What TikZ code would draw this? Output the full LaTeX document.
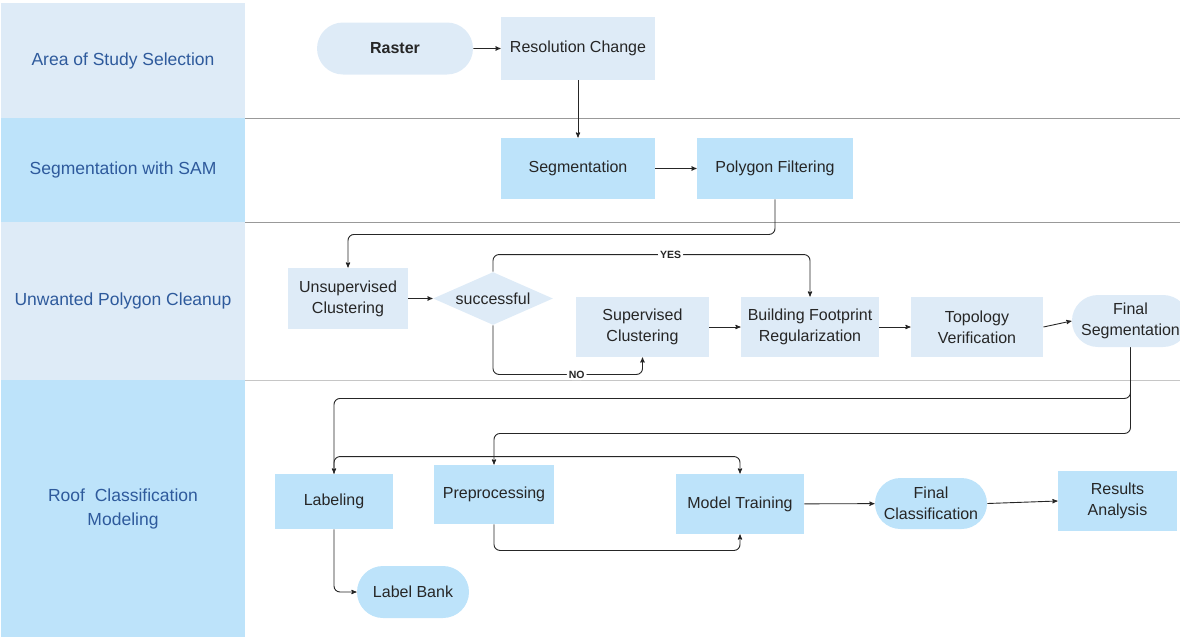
\documentclass[tikz,border=0pt]{standalone}
\usepackage{fontspec}
\setmainfont{Liberation Sans}
\usetikzlibrary{arrows,shapes}

\definecolor{lanelight}{HTML}{DEEBF7}
\definecolor{lanebright}{HTML}{BDE3FA}
\definecolor{laneblue}{HTML}{2E5A9C}

\begin{document}
\begin{tikzpicture}[->,>=stealth',x=1pt,y=-1pt,line width=0.9pt,color=black!85,
    box/.style={rectangle,fill=lanelight,align=center,text=black!85,
                font=\fontsize{16}{21}\selectfont,inner sep=2pt},
    pill/.style={box,rounded rectangle},
    lane/.style={rectangle,fill=lanelight,text=laneblue,align=center,minimum width=244,
                 inner sep=0pt,font=\fontsize{17.5}{24}\selectfont},
    tag/.style={fill=white,inner sep=2pt,text=black!85,font=\fontsize{10.5}{12}\selectfont\bfseries}]

  \useasboundingbox (0,0) rectangle (1180,637);

  % swimlanes
  \node[lane,minimum height=115] (l1) at (123,60.5) {Area of Study Selection};
  \node[lane,minimum height=104,fill=lanebright] (l2) at (123,170) {Segmentation with SAM};
  \node[lane,minimum height=158] (l3) at (123,301) {Unwanted Polygon Cleanup};
  \node[lane,minimum height=257,fill=lanebright] (l4) at (123,508.5) {Roof\ \ Classification\\Modeling};
  \draw[-,gray!80] (245,118) -- (1180,118);
  \draw[-,gray!80] (245,222) -- (1180,222);
  \draw[-,gray!45] (245,380) -- (1180,380);

  % steps
  \node[pill,minimum width=160,minimum height=52,font=\fontsize{16}{21}\selectfont\bfseries] (ras) at (395,48.5) {Raster};
  \node[box,minimum width=154,minimum height=63] (res) at (578,48.5) {Resolution Change};
  \node[box,minimum width=154,minimum height=61,fill=lanebright] (seg) at (578,168.5) {Segmentation};
  \node[box,minimum width=156,minimum height=61,fill=lanebright] (poly) at (775,168.5) {Polygon Filtering};
  \node[box,minimum width=120,minimum height=61] (unsup) at (348,298.5) {Unsupervised\\Clustering};
  \node[box,diamond,aspect=2.3,minimum width=120,minimum height=53,inner sep=0pt] (succ) at (493,298.5) {successful};
  \node[box,minimum width=133,minimum height=60] (sup) at (642.5,327) {Supervised\\Clustering};
  \node[box,minimum width=138,minimum height=60] (build) at (810,327) {Building Footprint\\Regularization};
  \node[box,minimum width=132,minimum height=60] (topo) at (977,327) {Topology\\Verification};
  \node[pill,minimum width=115,minimum height=52] (fseg) at (1130.5,321) {Final\\Segmentation};
  \node[box,minimum width=118,minimum height=55,fill=lanebright] (lab) at (334,501.5) {Labeling};
  \node[box,minimum width=120,minimum height=59,fill=lanebright] (pre) at (494,494.5) {Preprocessing};
  \node[box,minimum width=128,minimum height=60,fill=lanebright] (train) at (740,504) {Model Training};
  \node[pill,minimum width=116,minimum height=51,fill=lanebright] (fcls) at (931,503.5) {Final\\Classification};
  \node[box,minimum width=119,minimum height=60,fill=lanebright] (rslt) at (1117.5,501) {Results\\Analysis};
  \node[pill,minimum width=116,minimum height=52,fill=lanebright] (bank) at (413,592) {Label Bank};

  \path (ras) edge (res)
        (res) edge (seg)
        (seg) edge (poly)
        (unsup) edge (succ)
        (sup) edge (build)
        (build) edge (topo)
        (topo.east) edge (fseg.west)
        (train) edge (fcls)
        (fcls.east) edge (rslt.west);

  \draw[rounded corners=6] (poly.south) -- ++(0,35) -| (unsup.north);
  \draw[rounded corners=6] (succ.north) -- ++(0,-17) -| node[tag,pos=0.28] {YES} (build.north);
  \draw[rounded corners=6] (succ.south) -- ++(0,49) -| node[tag,pos=0.28] {NO} (sup.south);
  \draw[rounded corners=6] (fseg.south) -- ++(0,51) -| (lab.north);
  \draw[rounded corners=6] (fseg.south) -- ++(0,86) -| (pre.north);
  \draw[rounded corners=6] (lab.north) -- ++(0,-17) -| (train.north);
  \draw[rounded corners=6] (pre.south) -- ++(0,26) -| (train.south);
  \draw[rounded corners=6] (lab.south) |- (bank.west);
\end{tikzpicture}
\end{document}
